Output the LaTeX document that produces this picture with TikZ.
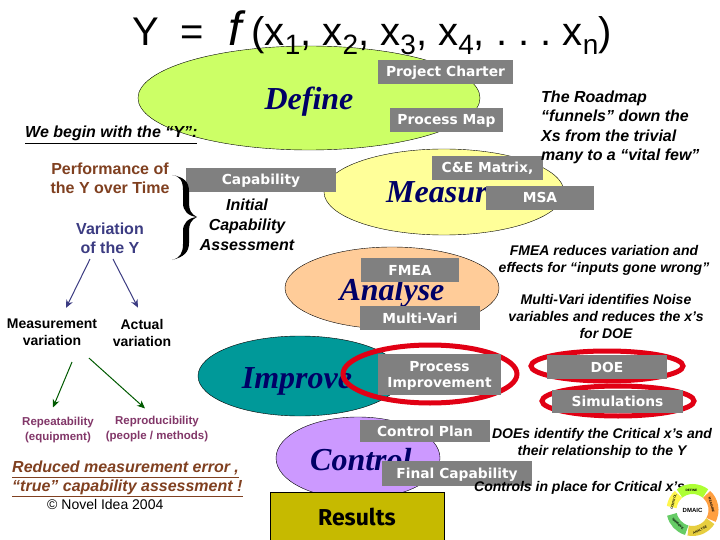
\documentclass[tikz,border=0pt]{standalone}
\usepackage{fontspec}
\usepackage{amsmath}
\usepackage{tikz}
\usetikzlibrary{arrows.meta}
\setmainfont{Liberation Sans}
\newfontfamily\phasefont{Liberation Serif}
\newfontfamily\toolfont{DejaVu Sans}
\newfontfamily\resultfont{Fira Sans}
\newcommand{\pxsize}[2]{\fontsize{#1}{#2}\selectfont}
\newcommand{\subdigit}[1]{\raisebox{-9pt}{\pxsize{28}{28}#1}}
\definecolor{navyink}{RGB}{0,0,102}
\definecolor{toolgrey}{RGB}{128,128,128}
\definecolor{brownink}{RGB}{128,64,32}
\definecolor{blueink}{RGB}{60,60,130}
\definecolor{greenink}{RGB}{0,90,0}
\definecolor{mauveink}{RGB}{130,55,105}
\definecolor{defineleaf}{RGB}{204,255,102}
\definecolor{measureleaf}{RGB}{255,255,153}
\definecolor{analyseleaf}{RGB}{255,204,153}
\definecolor{improveleaf}{RGB}{0,153,153}
\definecolor{controlleaf}{RGB}{204,153,255}
\definecolor{resultsleaf}{RGB}{198,186,0}
\definecolor{ringred}{RGB}{225,0,20}

\begin{document}
\begin{tikzpicture}[x=1pt,y=1pt,
    phase/.style={font=\phasefont\bfseries\itshape\pxsize{32}{36},text=navyink,inner sep=0pt,anchor=base},
    toolbox/.style={fill=toolgrey,text=white,font=\toolfont\bfseries\pxsize{13.8}{16},align=center,inner sep=0pt,text height=10pt,text depth=0pt},
    note/.style={font=\itshape\bfseries\pxsize{14}{17},align=center,inner sep=0pt},
    notel/.style={font=\itshape\bfseries\pxsize{16}{19.2},align=left,inner sep=0pt},
    plain/.style={font=\bfseries\pxsize{14}{17},align=center,inner sep=0pt},
    small/.style={font=\bfseries\pxsize{11.5}{15},align=center,inner sep=0pt,text=mauveink},
    under/.style={anchor=base west,inner sep=0pt,font=\bfseries\itshape\pxsize{16}{19}},
    redring/.style={draw=ringred,line width=5pt},
    pointer/.style={-{Stealth[length=8pt,width=7pt]},line width=1pt},
    ringlabel/.style={inner sep=0pt,font=\bfseries\pxsize{3.2}{4}}]
    \useasboundingbox (0,0) rectangle (720,-540);
    \fill[white] (0,0) rectangle (720,-540);

    % phase ellipses
    \draw[fill=defineleaf] (309,-98) ellipse (171 and 52);
    \draw[fill=measureleaf] (444,-192) ellipse (120 and 43);
    \draw[fill=analyseleaf] (392,-288) ellipse (107 and 41);
    \draw[fill=improveleaf] (300,-376) ellipse (102 and 40);
    \draw[fill=controlleaf] (358,-458) ellipse (82 and 41);

    % title
    \node[anchor=base west,inner sep=0pt,font=\frenchspacing\pxsize{40}{44}] (title) at (132,-45.5)
        {Y\hspace{22pt}=\hspace{24pt}{\itshape\pxsize{48}{48}f}\hspace{10pt}(x\subdigit{1}, x\subdigit{2}, x\subdigit{3}, x\subdigit{4}, . . . x\subdigit{n})};

    % phase names
    \node[phase] (define) at (309,-110) {Define};
    \node[phase,anchor=base west] (measure) at (386,-203) {Measure};
    \node[phase] (analyse) at (392,-300) {Analyse};
    \node[phase] (improve) at (297,-388) {Improve};
    \node[phase,anchor=base west] (control) at (310,-470) {Control};

    % red rings
    \draw[redring] (430,-374) ellipse (87 and 29);
    \draw[redring] (607,-366) ellipse (76 and 15);
    \draw[redring] (618,-401) ellipse (76 and 15);

    % tool boxes
    \node[toolbox,minimum width=135,minimum height=24] (charter) at (445.5,-72) {Project Charter};
    \node[toolbox,minimum width=113,minimum height=24] (procmap) at (446.5,-120) {Process Map};
    \node[toolbox,minimum width=111,minimum height=24] (cematrix) at (487.5,-168) {C\&E Matrix,};
    \node[toolbox,minimum width=108,minimum height=24] (msa) at (540,-198) {MSA};
    \node[toolbox,minimum width=150,minimum height=24] (capability) at (261,-180) {Capability};
    \node[toolbox,minimum width=98,minimum height=24] (fmea) at (410,-270) {FMEA};
    \node[toolbox,minimum width=120,minimum height=24] (multivari) at (420,-318) {Multi-Vari};
    \node[toolbox,minimum width=123,minimum height=41,text height=] (procimp) at (439.5,-374.5) {Process\\Improvement};
    \node[toolbox,minimum width=120,minimum height=24] (doe) at (607,-367) {DOE};
    \node[toolbox,minimum width=131,minimum height=23] (simul) at (617.5,-401.5) {Simulations};
    \node[toolbox,minimum width=130,minimum height=22] (ctrlplan) at (425,-431) {Control Plan};
    \node[toolbox,minimum width=150,minimum height=25] (finalcap) at (457,-473.5) {Final Capability};
    \node[draw,fill=resultsleaf,minimum width=174,minimum height=50,inner sep=0pt,
        font=\resultfont\bfseries\pxsize{23}{26}] (results) at (357,-517) {Results};

    % left column
    \node[under] (begin) at (25,-138) {\underline{We begin with the “Y”:}};
    \node[plain,font=\bfseries\pxsize{16}{19},text=brownink] (perf) at (110,-178.5) {Performance of\\the Y over Time};
    \node[plain,font=\bfseries\pxsize{16}{19},text=blueink] (vary) at (110,-238.5) {Variation\\of the Y};
    \fill (172,-175) .. controls (180,-176) and (183,-181) .. (183,-190)
        -- (183,-203) .. controls (183,-211) and (188,-216) .. (197,-217)
        .. controls (188,-218) and (183,-223) .. (183,-231)
        -- (183,-244) .. controls (183,-253) and (180,-258) .. (172,-260)
        .. controls (184,-257) and (189,-252) .. (189,-243)
        -- (189,-231) .. controls (189,-224) and (191,-220) .. (197,-217)
        .. controls (191,-214) and (189,-210) .. (189,-203)
        -- (189,-191) .. controls (189,-182) and (184,-177) .. (172,-175) -- cycle;
    \node[note,font=\itshape\bfseries\pxsize{16}{20}] (initial) at (247,-225) {Initial\\Capability\\Assessment};
    \node[plain] (measvar) at (52,-332.5) {Measurement\\variation};
    \node[plain] (actvar) at (142,-332.5) {Actual\\variation};
    \node[small] (repeat) at (58,-430.5) {Repeatability\\(equipment)};
    \node[small] (reprod) at (157,-429.5) {Reproducibility\\(people / methods)};
    \node[under,text=brownink] (reduced) at (12,-472) {\underline{Reduced measurement error ,}};
    \node[under,text=brownink] (truecap) at (12,-491) {\underline{“true” capability assessment !}};
    \node[anchor=base west,inner sep=0pt,font=\pxsize{14}{16}] (novel) at (47,-509) {© Novel Idea 2004};

    % arrows
    \draw[pointer,blueink] ([xshift=-20pt,yshift=-5pt]vary.south) -- ([xshift=14pt,yshift=11pt]measvar.north);
    \draw[pointer,blueink] ([xshift=3pt,yshift=-5pt]vary.south) -- ([xshift=-4pt,yshift=11pt]actvar.north);
    \draw[pointer,greenink] ([xshift=20pt,yshift=-16pt]measvar.south) -- ([xshift=-5pt,yshift=10pt]repeat.north);
    \draw[pointer,greenink] ([xshift=37pt,yshift=-12pt]measvar.south) -- ([xshift=-12pt,yshift=8pt]reprod.north);

    % right column
    \node[notel,anchor=north west] (roadmap) at (541,-91)
        {The Roadmap\\“funnels” down the\\Xs from the trivial\\many to a “vital few”};
    \node[note] (fmeanote) at (604,-260.5) {FMEA reduces variation and\\effects for “inputs gone wrong”};
    \node[note] (multinote) at (606,-316) {Multi-Vari identifies Noise\\variables and reduces the x’s\\for DOE};
    \node[note] (doenote) at (602,-443.5) {DOEs identify the Critical x’s and\\their relationship to the Y};
    \node[note,anchor=base west] (ctrlnote) at (474,-491) {Controls in place for Critical x’s};

    % DMAIC logo
    \begin{scope}[shift={(692.5,-510)}]
    \foreach \from/\to/\ringcolor in {128/52/green!40!yellow!80!white,48/-28/orange!75!white,-32/-102/brown!45!yellow!85!white,-106/-168/green!50!gray!80!white,172/132/yellow!70!white}
        \draw[\ringcolor,line width=10pt] (\from:21) arc (\from:\to:21);
    \node[inner sep=0pt,font=\bfseries\pxsize{6}{7}] (dmaic) at (0,0) {DMAIC};
    \node[ringlabel] (ldefine) at (-1,20) {DEFINE};
    \node[ringlabel,rotate=-75] (lmeasure) at (19,5) {MEASURE};
    \node[ringlabel,rotate=25] (lanalyse) at (7.5,-20) {ANALYSE};
    \node[ringlabel,rotate=-45] (limprove) at (-14.5,-14) {IMPROVE};
    \node[ringlabel,rotate=75] (lcontrol) at (-19,8) {CONTROL};
    \end{scope}
\end{tikzpicture}
\end{document}
